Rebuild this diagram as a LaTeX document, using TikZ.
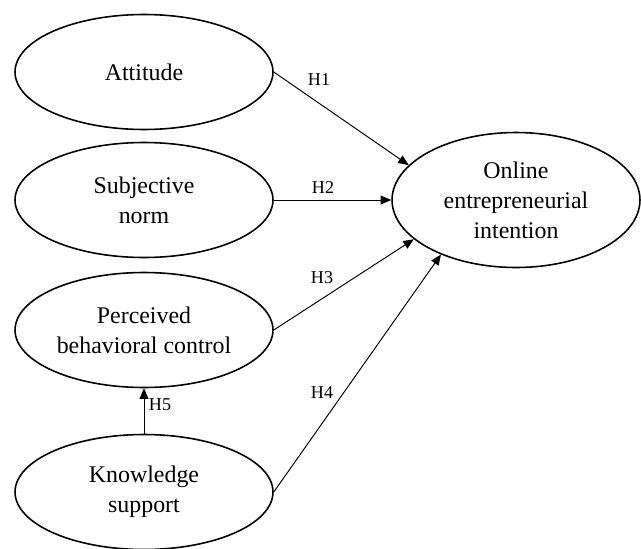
\documentclass[tikz,border=0pt]{standalone}
\usepackage{fontspec}
\setmainfont{Liberation Serif}
\usepackage{tikz}
\usetikzlibrary{positioning, arrows.meta, shapes.geometric}

\tikzset{
  construct/.style={draw, ellipse, line width=0.9pt, inner sep=0pt,
    minimum width=5.16cm, minimum height=2.3cm, align=center,
    font=\fontsize{13.6}{17}\selectfont},
  path arrow/.style={-{Triangle[length=6pt, width=5pt]}, line width=0.55pt},
  hyp/.style={font=\fontsize{10.3}{12}\selectfont}
}

\begin{document}
\begin{tikzpicture}[x=0.02cm, y=-0.02cm]
\useasboundingbox (0,0) rectangle (641,548);

% Antecedents
\node[construct] (att) at (144,72) {Attitude};
\node[construct] (sn) at (144,200) {Subjective\\norm};
\node[construct] (pbc) at (144,330) {Perceived\\behavioral control};
\node[construct] (ks) at (144,492) {Knowledge\\support};

% Outcome
\node[construct, minimum width=4.96cm, minimum height=2.7cm] (oei) at (516,200)
  {Online\\entrepreneurial\\intention};

% Hypothesised paths
\draw[path arrow] (att.east) -- (oei.162);
\draw[path arrow] (sn.east) -- (oei.west);
\draw[path arrow] (pbc.east) -- (oei.201);
\draw[path arrow] (ks.east) -- (oei.216);
\draw[path arrow] (ks.north) -- (pbc.south);

% Labels
\node[hyp] (h1) at (319,80) {H1};
\node[hyp] (h2) at (323,188) {H2};
\node[hyp] (h3) at (322,278) {H3};
\node[hyp] (h4) at (322,393) {H4};
\node[hyp] (h5) at (160,405) {H5};
\end{tikzpicture}
\end{document}
